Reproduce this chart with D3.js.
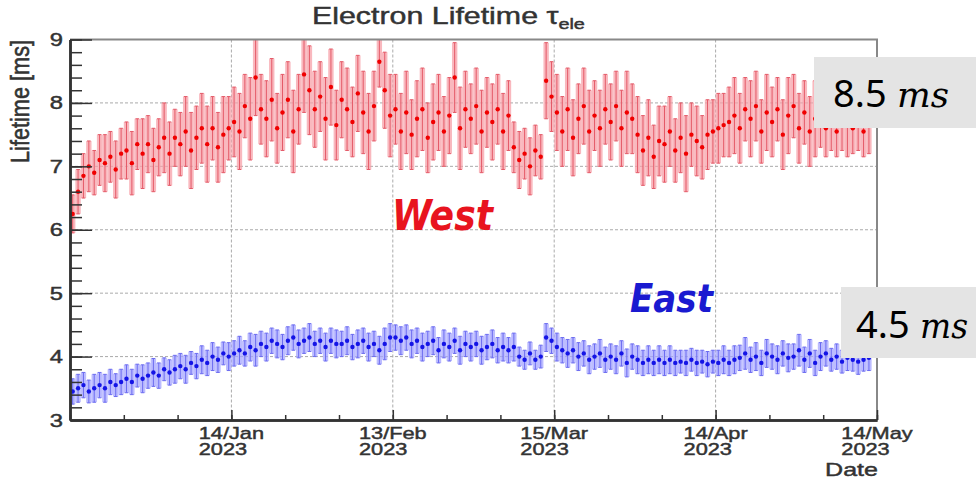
<!DOCTYPE html>
<html>
<head>
<meta charset="utf-8">
<script src="https://cdn.jsdelivr.net/npm/d3@7"></script>
<style>
  body { margin: 0; background: #fff; }
  svg { display: block; }
  .root-text { font-family: "Liberation Sans", Arial, sans-serif; fill: #333; stroke: #333; stroke-width: 0.45; }
</style>
</head>
<body>
<div id="chart"></div>
<script>
// daily points, first day is 15 Dec 2022
const startDate = new Date(2022, 11, 15);
const endDate = new Date(2023, 4, 14);
const yTickValues = [3, 4, 5, 6, 7, 8, 9];
const majorTickDates = [new Date(2023, 0, 14), new Date(2023, 1, 13), new Date(2023, 2, 15), new Date(2023, 3, 14), new Date(2023, 4, 14)];
const majorTickLabels = [["14/Jan", "2023"], ["13/Feb", "2023"], ["15/Mar", "2023"], ["14/Apr", "2023"], ["14/May", "2023"]];

const westLifetime = [
  6.25, 6.6, 6.85, 7.0, 6.9, 7.1, 7.05, 7.15, 6.95, 7.2,
  7.25, 7.05, 7.35, 7.2, 7.35, 7.1, 7.3, 7.45, 7.2, 7.45,
  7.35, 7.55, 7.25, 7.45, 7.6, 7.35, 7.6, 7.3, 7.5, 7.6,
  7.7, 7.55, 7.95, 7.75, 8.4, 7.9, 7.75, 8.05, 7.6, 7.85,
  8.05, 7.55, 7.9, 8.45, 8.2, 7.9, 8.1, 7.75, 8.25, 7.65,
  8.05, 7.9, 7.7, 8.15, 7.85, 7.55, 7.95, 8.65, 8.2, 7.8,
  7.9, 7.55, 7.85, 7.5, 7.75, 7.9, 7.45, 7.7, 7.85, 7.55,
  7.8, 8.4, 7.6, 7.9, 7.75, 7.95, 7.55, 7.85, 7.7, 7.9,
  7.55, 7.8, 7.3, 7.1, 7.2, 7.0, 7.25, 7.15, 8.35, 8.1,
  7.85, 7.55, 7.9, 7.45, 7.75, 7.95, 7.55, 7.8, 7.6, 7.9,
  7.7, 7.95, 7.6, 7.85, 7.75, 7.5, 7.25, 7.45, 7.15, 7.4,
  7.35, 7.55, 7.25, 7.45, 7.2, 7.5, 7.4, 7.3, 7.5, 7.55,
  7.6, 7.65, 7.7, 7.8, 7.6, 7.9, 7.75, 7.95, 7.55, 7.85,
  7.7, 7.9, 7.5, 7.8, 7.95, 7.6, 7.85, 7.55, 7.75, 7.8,
  7.6, 7.75, 7.55, 7.7, 7.65, 7.6, 7.7, 7.55, 7.65
];
const westError = [
  0.3, 0.35, 0.35, 0.4, 0.35, 0.4, 0.45, 0.4, 0.45, 0.4,
  0.45, 0.5, 0.4, 0.55, 0.45, 0.5, 0.45, 0.55, 0.5, 0.45,
  0.5, 0.55, 0.6, 0.5, 0.55, 0.6, 0.5, 0.55, 0.6, 0.5,
  0.55, 0.6, 0.5, 0.65, 0.6, 0.55, 0.6, 0.65, 0.55, 0.6,
  0.6, 0.65, 0.55, 0.6, 0.7, 0.6, 0.55, 0.65, 0.6, 0.55,
  0.6, 0.65, 0.55, 0.6, 0.65, 0.6, 0.55, 0.4, 0.6, 0.65,
  0.55, 0.6, 0.65, 0.55, 0.6, 0.65, 0.55, 0.6, 0.6, 0.55,
  0.6, 0.55, 0.65, 0.6, 0.55, 0.6, 0.65, 0.55, 0.6, 0.55,
  0.6, 0.55, 0.4, 0.45, 0.4, 0.45, 0.4, 0.35, 0.6, 0.55,
  0.6, 0.55, 0.65, 0.6, 0.55, 0.6, 0.65, 0.55, 0.6, 0.55,
  0.6, 0.55, 0.6, 0.65, 0.55, 0.6, 0.55, 0.6, 0.5, 0.55,
  0.6, 0.55, 0.5, 0.55, 0.6, 0.5, 0.55, 0.5, 0.55, 0.5,
  0.55, 0.5, 0.55, 0.6, 0.55, 0.5, 0.6, 0.55, 0.5, 0.6,
  0.55, 0.5, 0.55, 0.6, 0.5, 0.55, 0.5, 0.55, 0.6, 0.5,
  0.45, 0.5, 0.4, 0.45, 0.5, 0.4, 0.45, 0.4, 0.45
];
const eastLifetime = [
  3.45, 3.5, 3.55, 3.45, 3.5, 3.55, 3.5, 3.6, 3.55, 3.6,
  3.65, 3.6, 3.7, 3.65, 3.7, 3.75, 3.7, 3.8, 3.75, 3.8,
  3.85, 3.8, 3.9, 3.85, 3.95, 3.9, 4.0, 3.95, 4.05, 4.0,
  4.05, 4.1, 4.05, 4.15, 4.1, 4.2, 4.15, 4.25, 4.2, 4.15,
  4.25, 4.3, 4.2, 4.25, 4.3, 4.2, 4.25, 4.15, 4.25, 4.2,
  4.2, 4.25, 4.15, 4.2, 4.25, 4.15, 4.2, 4.1, 4.2, 4.3,
  4.3, 4.25, 4.3, 4.2, 4.25, 4.15, 4.2, 4.25, 4.1, 4.2,
  4.15, 4.25, 4.1, 4.2, 4.15, 4.2, 4.1, 4.15, 4.2, 4.1,
  4.15, 4.1, 4.15, 4.0, 3.95, 4.05, 3.95, 4.0, 4.3, 4.25,
  4.15, 4.1, 4.05, 4.1, 4.0, 4.05, 3.95, 4.0, 4.05, 3.95,
  4.0, 3.95, 4.05, 3.9, 4.0, 3.95, 3.9, 3.95, 3.9, 3.95,
  3.9, 3.95, 3.9, 3.92, 3.9, 3.95, 3.9, 3.92, 3.88, 3.92,
  3.9, 3.95, 3.9, 3.95, 3.98, 4.05, 3.95, 4.0, 3.9, 4.05,
  4.0, 3.95, 4.05, 3.98, 4.0, 4.1, 3.95, 4.05, 3.9, 4.0,
  4.05, 3.95, 4.0, 3.92, 3.98, 3.95, 3.92, 3.95, 3.98
];
const eastError = [
  0.2, 0.22, 0.2, 0.18, 0.22, 0.2, 0.22, 0.2, 0.18, 0.2,
  0.22, 0.2, 0.18, 0.22, 0.2, 0.22, 0.2, 0.18, 0.2, 0.22,
  0.2, 0.22, 0.18, 0.2, 0.22, 0.2, 0.22, 0.2, 0.18, 0.22,
  0.2, 0.22, 0.2, 0.22, 0.25, 0.2, 0.22, 0.2, 0.22, 0.2,
  0.22, 0.2, 0.22, 0.2, 0.22, 0.2, 0.2, 0.22, 0.2, 0.22,
  0.2, 0.22, 0.2, 0.22, 0.2, 0.22, 0.2, 0.22, 0.25, 0.22,
  0.2, 0.22, 0.2, 0.22, 0.2, 0.22, 0.2, 0.22, 0.2, 0.22,
  0.22, 0.2, 0.22, 0.2, 0.22, 0.2, 0.22, 0.2, 0.22, 0.2,
  0.22, 0.2, 0.22, 0.15, 0.15, 0.18, 0.15, 0.18, 0.22, 0.2,
  0.22, 0.2, 0.22, 0.2, 0.22, 0.2, 0.22, 0.2, 0.22, 0.2,
  0.2, 0.22, 0.2, 0.22, 0.2, 0.22, 0.2, 0.22, 0.2, 0.22,
  0.2, 0.22, 0.2, 0.18, 0.2, 0.18, 0.2, 0.18, 0.2, 0.18,
  0.2, 0.22, 0.2, 0.22, 0.2, 0.25, 0.2, 0.22, 0.2, 0.22,
  0.2, 0.22, 0.2, 0.22, 0.2, 0.25, 0.2, 0.22, 0.2, 0.22,
  0.2, 0.18, 0.2, 0.18, 0.2, 0.18, 0.2, 0.18, 0.2
];

const width = 976, height = 479;
const plot = { left: 70, right: 877, top: 39.5, bottom: 420 };
const stretch = 1.32; // the picture is wider than tall, text is squashed sideways

const svg = d3.select("#chart").append("svg")
  .attr("width", width)
  .attr("height", height);

const x = d3.scaleTime().domain([startDate, endDate]).range([plot.left, plot.right]);
const y = d3.scaleLinear().domain([3, 9]).range([plot.bottom, plot.top]);

svg.append("clipPath").attr("id", "plotClip")
  .append("rect")
  .attr("x", plot.left).attr("y", plot.top)
  .attr("width", plot.right - plot.left).attr("height", plot.bottom - plot.top);

// grid
const grid = svg.append("g").attr("stroke", "#aaa").attr("stroke-width", 1).attr("stroke-dasharray", "3,2");
grid.selectAll(".hgrid")
  .data(yTickValues.slice(1, -1))
  .join("line")
  .attr("x1", plot.left).attr("x2", plot.right)
  .attr("y1", d => y(d)).attr("y2", d => y(d));
grid.selectAll(".vgrid")
  .data(majorTickDates.slice(0, -1))
  .join("line")
  .attr("x1", d => x(d)).attr("x2", d => x(d))
  .attr("y1", plot.top).attr("y2", plot.bottom);

function drawSeries(values, errors, style) {
  const data = values.map((v, i) => ({
    date: d3.timeHour.offset(startDate, 24 * i + 12),
    value: v,
    err: errors[i]
  }));
  const dayWidth = x(d3.timeDay.offset(startDate, 1)) - x(startDate);
  const g = svg.append("g").attr("clip-path", "url(#plotClip)");

  g.selectAll("rect")
    .data(data)
    .join("rect")
    .attr("x", d => x(d.date) - dayWidth / 2)
    .attr("width", dayWidth)
    .attr("y", d => y(d.value + d.err))
    .attr("height", d => y(d.value - d.err) - y(d.value + d.err))
    .attr("fill", style.band)
    .attr("fill-opacity", 0.75);

  g.selectAll(".bar")
    .data(data)
    .join("line")
    .attr("x1", d => x(d.date)).attr("x2", d => x(d.date))
    .attr("y1", d => y(d.value + d.err)).attr("y2", d => y(d.value - d.err))
    .attr("stroke", style.line).attr("stroke-width", 1);

  g.selectAll(".capTop")
    .data(data)
    .join("line")
    .attr("x1", d => x(d.date) - 1.8).attr("x2", d => x(d.date) + 1.8)
    .attr("y1", d => y(d.value + d.err)).attr("y2", d => y(d.value + d.err))
    .attr("stroke", style.line).attr("stroke-width", 1);

  g.selectAll(".capBottom")
    .data(data)
    .join("line")
    .attr("x1", d => x(d.date) - 1.8).attr("x2", d => x(d.date) + 1.8)
    .attr("y1", d => y(d.value - d.err)).attr("y2", d => y(d.value - d.err))
    .attr("stroke", style.line).attr("stroke-width", 1);

  g.selectAll("circle")
    .data(data)
    .join("circle")
    .attr("cx", d => x(d.date))
    .attr("cy", d => y(d.value))
    .attr("r", 2.2)
    .attr("fill", style.dot);
}

drawSeries(westLifetime, westError, { band: "#f7a0a8", line: "#e45a68", dot: "#f00000" });
drawSeries(eastLifetime, eastError, { band: "#a6a6ff", line: "#6c6cf0", dot: "#1414e6" });

// frame
svg.append("path")
  .attr("d", `M${plot.left},${plot.top}H${plot.right}V${plot.bottom}`)
  .attr("fill", "none").attr("stroke", "#888").attr("stroke-width", 2);

// left axis, ticks pointing inwards
const yMajor = svg.append("g")
  .attr("transform", `translate(${plot.left},0)`)
  .call(d3.axisLeft(y).tickValues(yTickValues).tickSize(-22).tickSizeOuter(0).tickFormat(""));
const yMinor = svg.append("g")
  .attr("transform", `translate(${plot.left},0)`)
  .call(d3.axisLeft(y).tickValues(d3.range(3, 9.01, 0.2)).tickSize(-12).tickSizeOuter(0).tickFormat(""));

// bottom axis
const minorDates = d3.range(0, 151, 10).map(d => d3.timeDay.offset(startDate, d));
const xMajor = svg.append("g")
  .attr("transform", `translate(0,${plot.bottom})`)
  .call(d3.axisBottom(x).tickValues(majorTickDates).tickSize(-10).tickSizeOuter(0).tickFormat(""));
const xMinor = svg.append("g")
  .attr("transform", `translate(0,${plot.bottom})`)
  .call(d3.axisBottom(x).tickValues(minorDates).tickSize(-5).tickSizeOuter(0).tickFormat(""));

[yMajor, yMinor, xMajor, xMinor].forEach(a => {
  a.selectAll("line").attr("stroke", "#333").attr("stroke-width", 1.5);
  a.select(".domain").attr("stroke", "#333").attr("stroke-width", 2.5);
});

// y tick labels
yTickValues.forEach(v => {
  svg.append("text")
    .attr("class", "root-text")
    .attr("transform", `translate(63,${y(v) + 6.5}) scale(${stretch},1)`)
    .attr("text-anchor", "end")
    .attr("font-size", 18)
    .text(v);
});

// x tick labels, two lines left aligned
majorTickDates.forEach((d, i) => {
  const g = svg.append("g")
    .attr("transform", `translate(${x(d)},439) scale(${stretch},1)`);
  const first = g.append("text")
    .attr("class", "root-text")
    .attr("text-anchor", "middle")
    .attr("font-size", 16.5)
    .text(majorTickLabels[i][0]);
  const w = first.node().getComputedTextLength();
  g.append("text")
    .attr("class", "root-text")
    .attr("x", -w / 2)
    .attr("y", 16)
    .attr("font-size", 16.5)
    .text(majorTickLabels[i][1]);
});

// axis titles
svg.append("text")
  .attr("class", "root-text")
  .attr("transform", `translate(878,476) scale(${stretch},1)`)
  .attr("text-anchor", "end")
  .attr("font-size", 19)
  .text("Date");

svg.append("text")
  .attr("class", "root-text")
  .attr("transform", `translate(29,40) rotate(-90) scale(1,${stretch})`)
  .attr("text-anchor", "end")
  .attr("font-size", 19)
  .attr("textLength", 123)
  .attr("lengthAdjust", "spacingAndGlyphs")
  .text("Lifetime [ms]");

// title
const title = svg.append("text")
  .attr("class", "root-text")
  .attr("transform", `translate(312,24) scale(${stretch},1)`)
  .attr("font-size", 23);
title.append("tspan").text("Electron Lifetime τ");
title.append("tspan").attr("font-size", 15).attr("dy", 5).text("ele");

// series names
svg.append("text")
  .attr("x", 392).attr("y", 230)
  .attr("font-family", "DejaVu Sans, sans-serif")
  .attr("font-style", "italic").attr("font-weight", "bold")
  .attr("font-size", 42)
  .attr("textLength", 101).attr("lengthAdjust", "spacingAndGlyphs")
  .attr("fill", "#e8141e")
  .text("West");

svg.append("text")
  .attr("x", 630).attr("y", 312)
  .attr("font-family", "DejaVu Sans, sans-serif")
  .attr("font-style", "italic").attr("font-weight", "bold")
  .attr("font-size", 39)
  .attr("textLength", 83).attr("lengthAdjust", "spacingAndGlyphs")
  .attr("fill", "#1a1ad0")
  .text("East");

// pasted value boxes
function valueBox(bx, by, bw, bh, num, tx, ty, msX, msLen) {
  svg.append("rect")
    .attr("x", bx).attr("y", by).attr("width", bw).attr("height", bh)
    .attr("fill", "#e4e4e4");
  svg.append("text")
    .attr("x", tx).attr("y", ty)
    .attr("font-family", "Noto Sans, sans-serif")
    .attr("font-size", 38)
    .attr("fill", "#000")
    .text(num);
  svg.append("text")
    .attr("x", msX).attr("y", ty)
    .attr("font-family", "DejaVu Serif, serif")
    .attr("font-style", "italic")
    .attr("font-size", 36)
    .attr("textLength", msLen).attr("lengthAdjust", "spacingAndGlyphs")
    .attr("fill", "#000")
    .text("ms");
}
valueBox(814, 57, 162, 71, "8.5", 833, 107, 897, 52);
valueBox(841, 287, 135, 71, "4.5", 856, 338, 920, 48);
</script>
</body>
</html>
